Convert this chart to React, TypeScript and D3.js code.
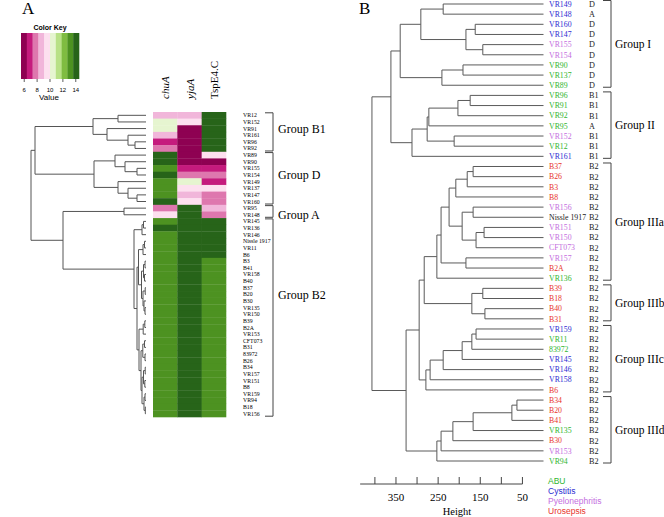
import React from "react";
import * as d3 from "d3";

type Tree = string | [number, Tree, Tree];

// ---------- Panel A data ----------
const heatRows = ["VR12","VR152","VR91","VR161","VR96","VR92","VR89","VR90","VR155","VR154","VR149","VR137","VR147","VR160","VR95","VR148","VR145","VR136","VR146","Nissle 1917","VR11","B6","B3","B41","VR158","B40","B37","B20","B30","VR135","VR150","B39","B2A","VR153","CFT073","B31","83972","B26","B34","VR157","VR151","B8","VR159","VR94","B18","VR156"];
const heatCols = ["chuA", "yjaA", "TspE4.C"];
const chuA = [8.6,10.4,10.4,8.6,6.9,7.8,14.0,14.0,13.2,14.0,13.2,13.2,13.2,14.0,7.8,9.5,13.2,14.0,13.2,13.2,13.2,13.2,13.2,13.2,13.2,13.2,13.2,13.2,13.2,13.2,13.2,13.2,13.2,13.2,13.2,13.2,13.2,13.2,13.2,13.2,13.2,13.2,13.2,13.2,13.2,13.2];
const yjaA = [8.6,9.5,6.0,6.0,6.0,6.0,6.0,6.0,6.9,7.8,10.4,9.5,8.6,9.5,14.0,14.0,14.0,14.0,14.0,14.0,14.0,14.0,14.0,14.0,14.0,14.0,14.0,14.0,14.0,14.0,14.0,14.0,14.0,14.0,14.0,14.0,14.0,14.0,14.0,14.0,14.0,14.0,14.0,14.0,14.0,14.0];
const tspE4C = [14.0,14.0,14.0,14.0,14.0,14.0,9.5,6.0,6.9,7.8,6.9,9.5,7.8,7.8,8.6,7.8,14.0,14.0,14.0,14.0,14.0,14.0,13.2,13.2,13.2,13.2,13.2,13.2,13.2,13.2,13.2,13.2,13.2,13.2,13.2,13.2,13.2,13.2,13.2,13.2,13.2,13.2,13.2,13.2,13.2,13.2];
const keyColors = ["#8e0152","#c51b7d","#de77ae","#f1b6da","#fde0ef","#e6f5d0","#b8e186","#7fbc41","#4d9221","#276419"];
const keyDomain = [5.5, 14.5];
const keyTicks = [6, 8, 10, 12, 14];

const treeA: Tree = [115,
  [111,
    [53, [28, "VR12", "VR152"], [39, "VR91", [18, "VR161", [11, "VR96", "VR92"]]]],
    [52, [31, "VR89", [21, "VR90", [9, "VR155", "VR154"]]], [28, "VR149", [18, "VR137", [9, "VR147", "VR160"]]]]],
  [83,
    [22, "VR95", "VR148"],
    [12,
      [4, [2.5, "VR145", "VR136"], "VR146"],
      [9,
        [7.5, [3, [1.5, "Nissle 1917", "VR11"], "B6"],
          [4.5, [2.5, [1, "B3", "B41"], [1.5, "VR158", "B40"]], [3, [0.8, "B37", "B20"], [2, "B30", [1, "VR135", "VR150"]]]]],
        [7, [2.8, [1.2, "B39", "B2A"], "VR153"],
          [5, [3.2, [1.5, "CFT073", "B31"], [1, "83972", "B26"]],
            [4, [2.5, [0.8, "B34", "VR157"], [1.2, "VR151", "B8"]], [2, [1, "VR159", "VR94"], [0.7, "B18", "VR156"]]]]]]]]];

const groupsA = [
  { name: "Group B1", from: "VR12", to: "VR92", labelRow: "VR91" },
  { name: "Group D", from: "VR89", to: "VR160", labelRow: "VR154" },
  { name: "Group A", from: "VR95", to: "VR148", labelRow: "VR148" },
  { name: "Group B2", from: "VR145", to: "VR156", labelRow: "B20" },
];

// ---------- Panel B data ----------
const leavesB = ["VR149","VR148","VR160","VR147","VR155","VR154","VR90","VR137","VR89","VR96","VR91","VR92","VR95","VR152","VR12","VR161","B37","B26","B3","B8","VR156","Nissle 1917","VR151","VR150","CFT073","VR157","B2A","VR136","B39","B18","B40","B31","VR159","VR11","83972","VR145","VR146","VR158","B6","B34","B20","B41","VR135","B30","VR153","VR94"];
const sourceB = ["C","C","C","C","P","P","A","A","A","A","A","A","A","P","A","C","U","U","U","U","P","N","P","P","P","P","U","A","U","U","U","U","C","A","A","C","C","C","U","U","U","U","A","U","P","A"];
const phyloB = ["D","A","D","D","D","D","D","D","D","B1","B1","B1","A","B1","B1","B1","B2","B2","B2","B2","B2","B2","B2","B2","B2","B2","B2","B2","B2","B2","B2","B2","B2","B2","B2","B2","B2","B2","B2","B2","B2","B2","B2","B2","B2","B2"];
const sourceNames = ["ABU", "Cystitis", "Pyelonephritis", "Urosepsis"];
const sourceKeys = ["A", "C", "P", "U"];
const sourceColors: Record<string, string> = { A: "#2fb52f", C: "#2b2bd2", P: "#c46ee0", U: "#e8332c", N: "#222222" };

const treeB: Tree = [407,
  [362,
    [340,
      [291, [238, "VR149", "VR148"], [184, [162, "VR160", "VR147"], [144, "VR155", "VR154"]]],
      [241, [191, "VR90", "VR137"], "VR89"]],
    [312, [276, [272, [203, [174, "VR96", "VR91"], "VR92"], "VR95"], [212, "VR152", "VR12"]], "VR161"]],
  [326,
    [295,
      [283,
        [253,
          [243,
            [224,
              [208, [181, [167, "B37", "B26"], "B3"], "B8"],
              [193, [167, "VR156", "Nissle 1917"], [160, [141, "VR151", "VR150"], "CFT073"]]],
            [184, "VR157", "B2A"]],
          "VR136"],
        [170, [144, "B39", "B18"], [139, "B40", "B31"]]],
      [279, [269, [238, [193, [170, [160, "VR159", "VR11"], "83972"], "VR145"], "VR146"], "VR158"], "B6"]],
    [253, [243, [215, [167, [75, [63, "B34", "B20"], "B41"], "VR135"], "B30"], "VR153"], "VR94"]]];

const groupsB = [
  { name: "Group I", from: "VR149", to: "VR89" },
  { name: "Group II", from: "VR96", to: "VR161" },
  { name: "Group IIIa", from: "B37", to: "VR136" },
  { name: "Group IIIb", from: "B39", to: "B31" },
  { name: "Group IIIc", from: "VR159", to: "B6" },
  { name: "Group IIId", from: "B34", to: "VR94" },
];
const heightTicks = [400, 350, 300, 250, 200, 150, 100, 50];
const heightLabels = [350, 250, 150, 50];

const SERIF = "'Liberation Serif', 'Times New Roman', serif";
const SANS = "'Liberation Sans', Arial, sans-serif";

function dendroPaths(t: Tree, yOf: (n: string) => number, xOf: (h: number) => number, out: string[]): { y: number; h: number } {
  if (typeof t === "string") return { y: yOf(t), h: 0 };
  const [h, a, b] = t;
  const A = dendroPaths(a, yOf, xOf, out);
  const B = dendroPaths(b, yOf, xOf, out);
  const x = xOf(h);
  out.push(`M${xOf(A.h)},${A.y}H${x}V${B.y}H${xOf(B.h)}`);
  return { y: (A.y + B.y) / 2, h };
}

export default function App() {
  // Panel A scales
  const rowBand = d3.scaleBand<string>().domain(heatRows).range([112, 417]);
  const colBand = d3.scaleBand<string>().domain(heatCols).range([153, 226]);
  const color = d3.scaleQuantize<string>().domain(keyDomain).range(keyColors);
  const xA = d3.scaleLinear().domain([0, 115]).range([146, 31]);
  const yA = (n: string) => (rowBand(n) as number) + rowBand.bandwidth() / 2;
  const pathsA: string[] = [];
  dendroPaths(treeA, yA, xA, pathsA);
  const keyX = d3.scaleLinear().domain(keyDomain).range([21, 79]);
  const colValues = [chuA, yjaA, tspE4C];

  // Panel B scales
  const yB = d3.scalePoint<string>().domain(leavesB).range([4, 461]);
  const xB = d3.scaleLinear().domain([0, 400]).range([543.5, 374.9]);
  const pathsB: string[] = [];
  dendroPaths(treeB, (n) => yB(n) as number, xB, pathsB);

  return (
    <svg width={664} height={517} style={{ position: "absolute", left: 0, top: 0, background: "#fff" }}>
      {/* Panel letters */}
      <text x={22} y={14} fontFamily={SERIF} fontSize={17}>A</text>
      <text x={359} y={14} fontFamily={SERIF} fontSize={17}>B</text>

      {/* Color key */}
      <text x={50} y={30} textAnchor="middle" fontFamily={SANS} fontWeight="bold" fontSize={7}>Color Key</text>
      {keyColors.map((c, i) => {
        const step = (keyDomain[1] - keyDomain[0]) / keyColors.length;
        const x0 = keyX(keyDomain[0] + i * step);
        const x1 = keyX(keyDomain[0] + (i + 1) * step);
        return <rect key={c} x={x0} y={33} width={x1 - x0 + 0.3} height={46} fill={c} />;
      })}
      {keyTicks.map((t) => (
        <g key={t}>
          <line x1={keyX(t)} x2={keyX(t)} y1={79} y2={82} stroke="#333" strokeWidth={0.8} />
          <text x={keyX(t)} y={92} textAnchor="middle" fontFamily={SANS} fontSize={6}>{t}</text>
        </g>
      ))}
      <text x={49} y={100} textAnchor="middle" fontFamily={SANS} fontSize={8}>Value</text>

      {/* Column labels */}
      {heatCols.map((c, i) => (
        <text key={c} transform={`translate(${(colBand(c) as number) + colBand.bandwidth() / 2 + 4},99) rotate(-90)`}
          fontFamily={SERIF} fontSize={11} fontStyle={i < 2 ? "italic" : "normal"}>{c}</text>
      ))}

      {/* Heatmap */}
      {heatCols.map((c, ci) =>
        heatRows.map((r, ri) => (
          <rect key={c + r} x={colBand(c)} y={rowBand(r)} width={colBand.bandwidth() + 0.3} height={rowBand.bandwidth() + 0.3}
            fill={color(colValues[ci][ri])} />
        ))
      )}
      {heatRows.map((r) => (
        <text key={r} x={243} y={yA(r)} dy="0.35em" fontFamily={SERIF} fontSize={5.8} fill="#000">{r}</text>
      ))}

      {/* Dendrogram A */}
      <g fill="none" stroke="#555" strokeWidth={1}>
        {pathsA.map((d, i) => <path key={i} d={d} />)}
      </g>

      {/* Groups A */}
      {groupsA.map((g) => {
        const top = (rowBand(g.from) as number) + 0.8;
        const bot = (rowBand(g.to) as number) + rowBand.bandwidth() - 0.8;
        return (
          <g key={g.name}>
            <path d={`M265,${top}H273V${bot}H265`} fill="none" stroke="#444" strokeWidth={1} />
            <text x={278} y={yA(g.labelRow)} dy="0.35em" fontFamily={SERIF} fontSize={12}>{g.name}</text>
          </g>
        );
      })}

      {/* Dendrogram B */}
      <g fill="none" stroke="#5a5a5a" strokeWidth={1}>
        {pathsB.map((d, i) => <path key={i} d={d} />)}
      </g>
      {leavesB.map((n, i) => (
        <g key={n}>
          <text x={549} y={yB(n)} dy="0.35em" fontFamily={SERIF} fontSize={7.8} fill={sourceColors[sourceB[i]]}>{n}</text>
          <text x={589} y={yB(n)} dy="0.35em" fontFamily={SERIF} fontSize={8.2} fill="#222">{phyloB[i]}</text>
        </g>
      ))}
      {groupsB.map((g) => {
        const top = (yB(g.from) as number) - 3.5;
        const bot = (yB(g.to) as number) + 2;
        return (
          <g key={g.name}>
            <path d={`M603,${top}H611V${bot}H603`} fill="none" stroke="#444" strokeWidth={1} />
            <text x={615} y={(top + bot) / 2} dy="0.35em" fontFamily={SERIF} fontSize={11.5}>{g.name}</text>
          </g>
        );
      })}

      {/* Height axis */}
      <line x1={xB(435)} x2={xB(50)} y1={484} y2={484} stroke="#444" strokeWidth={1} />
      {heightTicks.map((t) => (
        <line key={t} x1={xB(t)} x2={xB(t)} y1={477} y2={484} stroke="#444" strokeWidth={1} />
      ))}
      {heightLabels.map((t) => (
        <text key={t} x={xB(t)} y={497} dy="0.35em" textAnchor="middle" fontFamily={SERIF} fontSize={11}>{t}</text>
      ))}
      <text x={457} y={511} dy="0.35em" textAnchor="middle" fontFamily={SERIF} fontSize={10.5}>Height</text>

      {/* Legend */}
      {sourceNames.map((s, i) => (
        <text key={s} x={548} y={481 + i * 10} dy="0.35em" fontFamily={SANS} fontSize={8.5} fill={sourceColors[sourceKeys[i]]}>{s}</text>
      ))}
    </svg>
  );
}
